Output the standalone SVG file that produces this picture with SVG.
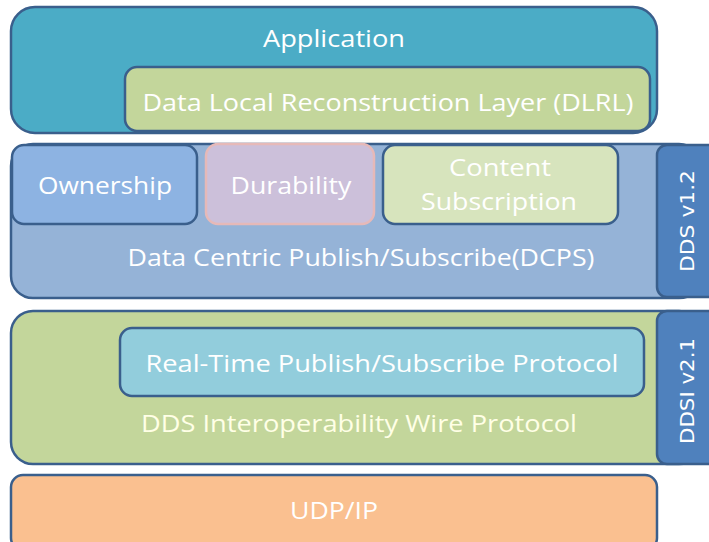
<svg xmlns="http://www.w3.org/2000/svg" width="709" height="542" viewBox="0 0 709 542">
<style>
.b{stroke:#3A5F8C;stroke-width:2.5}
.t{font-family:"Open Sans","Liberation Sans",sans-serif;fill:#ffffff;font-size:23px;text-anchor:middle}
.v{font-family:"DejaVu Sans",sans-serif;fill:#ffffff;font-size:20px;text-anchor:middle}
</style>
<rect width="709" height="542" fill="#ffffff"/>
<g id="application">
<rect class="b" x="11" y="7" width="646" height="126" rx="24" fill="#4BACC6"/>
<text class="t" x="334" y="47" textLength="142" lengthAdjust="spacingAndGlyphs">Application</text>
</g>
<g id="dlrl">
<rect class="b" x="125" y="67" width="525" height="64" rx="12" fill="#C3D69B"/>
<text class="t" x="388" y="111" textLength="491" lengthAdjust="spacingAndGlyphs">Data Local Reconstruction Layer (DLRL)</text>
</g>
<g id="dcps">
<rect class="b" x="11" y="144" width="690" height="154" rx="22" fill="#95B3D7"/>
<text class="t" x="361" y="266" textLength="467" lengthAdjust="spacingAndGlyphs">Data Centric Publish/Subscribe(DCPS)</text>
</g>
<g id="dds-v12">
<rect class="b" x="657" y="145" width="62" height="152" rx="10" fill="#4F81BD"/>
<text class="v" transform="translate(694,221) rotate(-90)" textLength="102" lengthAdjust="spacingAndGlyphs">DDS v1.2</text>
</g>
<g id="ownership">
<rect class="b" x="12" y="145" width="185" height="79" rx="12" fill="#8DB3E2"/>
<text class="t" x="105" y="194" textLength="134" lengthAdjust="spacingAndGlyphs">Ownership</text>
</g>
<g id="durability">
<rect x="206" y="144" width="168" height="80" rx="12" fill="#CCC0DA" stroke="#E6B9B8" stroke-width="2.5"/>
<text class="t" x="291" y="194" textLength="121" lengthAdjust="spacingAndGlyphs">Durability</text>
</g>
<g id="content-subscription">
<rect class="b" x="383" y="145" width="235" height="79" rx="12" fill="#D7E4BD"/>
<text class="t" x="500" y="176" textLength="102" lengthAdjust="spacingAndGlyphs">Content</text>
<text class="t" x="499" y="210" textLength="156" lengthAdjust="spacingAndGlyphs">Subscription</text>
</g>
<g id="ddsi">
<rect class="b" x="11" y="311" width="690" height="153" rx="22" fill="#C3D69B"/>
<text class="t" x="359" y="432" textLength="436" lengthAdjust="spacingAndGlyphs" style="fill:#FFFFE6">DDS Interoperability Wire Protocol</text>
</g>
<g id="ddsi-v21">
<rect class="b" x="657" y="311" width="62" height="153" rx="10" fill="#4F81BD"/>
<text class="v" transform="translate(694,391) rotate(-90)" textLength="106" lengthAdjust="spacingAndGlyphs">DDSI v2.1</text>
</g>
<g id="rtps">
<rect class="b" x="120" y="328" width="524" height="68" rx="12" fill="#92CDDC"/>
<text class="t" x="382" y="372" textLength="473" lengthAdjust="spacingAndGlyphs">Real-Time Publish/Subscribe Protocol</text>
</g>
<g id="udp-ip">
<rect class="b" x="11" y="475" width="646" height="75" rx="12" fill="#FAC090"/>
<text class="t" x="334" y="519" textLength="88" lengthAdjust="spacingAndGlyphs">UDP/IP</text>
</g>
<g id="connectors"/>
</svg>
